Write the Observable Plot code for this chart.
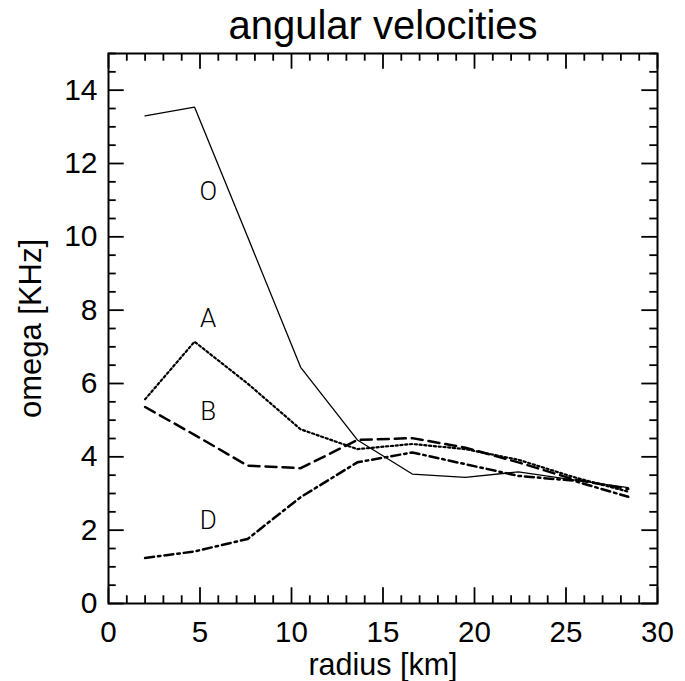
<!DOCTYPE html>
<html><head><meta charset="utf-8">
<script src="https://cdn.jsdelivr.net/npm/d3@7"></script>
<script src="https://cdn.jsdelivr.net/npm/@observablehq/plot@0.6"></script>
<style>
html,body{margin:0;padding:0;background:#fff}
#chart svg{font-family:"Liberation Sans",Arial,sans-serif;display:block}
</style>
</head><body><div id="chart"></div>
<script>
// radius [km] sample positions
const radius = [2.0, 4.7, 7.6, 10.5, 13.6, 16.6, 19.5, 22.4, 25.4, 28.4];
// omega [KHz] per series
const omegaO = [13.30, 13.54, 10.0, 6.44, 4.46, 3.53, 3.44, 3.59, 3.37, 3.16];
const omegaA = [5.57, 7.14, 6.0, 4.75, 4.21, 4.35, 4.21, 3.92, 3.45, 3.05];
const omegaB = [5.36, 4.60, 3.76, 3.69, 4.46, 4.51, 4.25, 3.85, 3.39, 3.12];
const omegaD = [1.24, 1.42, 1.76, 2.90, 3.85, 4.12, 3.80, 3.48, 3.35, 2.91];
// in-plot series labels
const seriesNames = ["O", "A", "B", "D"];
const labelX = [5.45, 5.45, 5.45, 5.45];
const labelY = [11.23, 7.77, 5.24, 2.26];
// ticks
const xTicks = [0, 5, 10, 15, 20, 25, 30];
const yTicks = [0, 2, 4, 6, 8, 10, 12, 14];
const xMinor = d3.range(0, 31, 1).filter(v => v % 5 !== 0);
const yMinor = d3.range(0, 15.01, 0.5).filter(v => v % 2 !== 0);

const titleText = "angular velocities";
const xLabel = "radius [km]";
const yLabel = "omega [KHz]";

const W = 685, H = 681;
const mL = 108, mR = 28, mT = 53, mB = 78;
const fw = W - mL - mR, fh = H - mT - mB;
const majLen = 15.7, minLen = 7.7;

const mk = ys => radius.map((r, i) => ({r, v: ys[i]}));
const labels = seriesNames.map((s, i) => ({s, x: labelX[i], y: labelY[i]}));

const chart = Plot.plot({
  width: W, height: H,
  marginLeft: mL, marginRight: mR, marginTop: mT, marginBottom: mB,
  style: {fontFamily: "Liberation Sans, Arial, sans-serif", background: "#fff"},
  x: {domain: [0, 30]},
  y: {domain: [0, 15]},
  marks: [
    // inward ticks (bottom / top)
    Plot.tickX(xTicks, {x: d => d, insetTop: fh - majLen, strokeWidth: 1.8}),
    Plot.tickX(xTicks, {x: d => d, insetBottom: fh - majLen, strokeWidth: 1.8}),
    Plot.tickX(xMinor, {x: d => d, insetTop: fh - minLen, strokeWidth: 1.8}),
    Plot.tickX(xMinor, {x: d => d, insetBottom: fh - minLen, strokeWidth: 1.8}),
    // inward ticks (left / right)
    Plot.tickY(yTicks, {y: d => d, insetRight: fw - majLen, strokeWidth: 1.8}),
    Plot.tickY(yTicks, {y: d => d, insetLeft: fw - majLen, strokeWidth: 1.8}),
    Plot.tickY(yMinor, {y: d => d, insetRight: fw - minLen, strokeWidth: 1.8}),
    Plot.tickY(yMinor, {y: d => d, insetLeft: fw - minLen, strokeWidth: 1.8}),
    Plot.frame({stroke: "black", strokeWidth: 2}),
    Plot.axisX({ticks: xTicks, tickSize: 0, tickPadding: 18, fontSize: 29.5, label: null, tickFormat: d => String(d), fill: "black"}),
    Plot.axisY({ticks: yTicks, tickSize: 0, tickPadding: 11, fontSize: 30, label: null, tickFormat: d => String(d), fill: "black"}),
    // series
    Plot.line(mk(omegaO), {x: "r", y: "v", stroke: "black", strokeWidth: 1.3}),
    Plot.line(mk(omegaA), {x: "r", y: "v", stroke: "black", strokeWidth: 2.2, strokeDasharray: "2.2 2.6"}),
    Plot.line(mk(omegaB), {x: "r", y: "v", stroke: "black", strokeWidth: 2.5, strokeDasharray: "11 6"}),
    Plot.line(mk(omegaD), {x: "r", y: "v", stroke: "black", strokeWidth: 2.5, strokeDasharray: "9 4 2.5 4"}),
    Plot.text(labels, {x: "x", y: "y", text: "s", fontSize: 26, fontFamily: "Roboto", fontWeight: 300, fill: "black"}),
    // title and axis labels
    Plot.text([titleText], {frameAnchor: "top", lineAnchor: "middle", textAnchor: "middle", dy: -27, fontSize: 40, fill: "black"}),
    Plot.text([xLabel], {frameAnchor: "bottom", lineAnchor: "middle", textAnchor: "middle", dy: 62, fontSize: 30.5, fill: "black"}),
    Plot.text([yLabel], {frameAnchor: "left", lineAnchor: "middle", textAnchor: "middle", dx: -77, rotate: -90, fontSize: 31, fill: "black"})
  ]
});
document.getElementById("chart").appendChild(chart);
</script>
</body></html>
